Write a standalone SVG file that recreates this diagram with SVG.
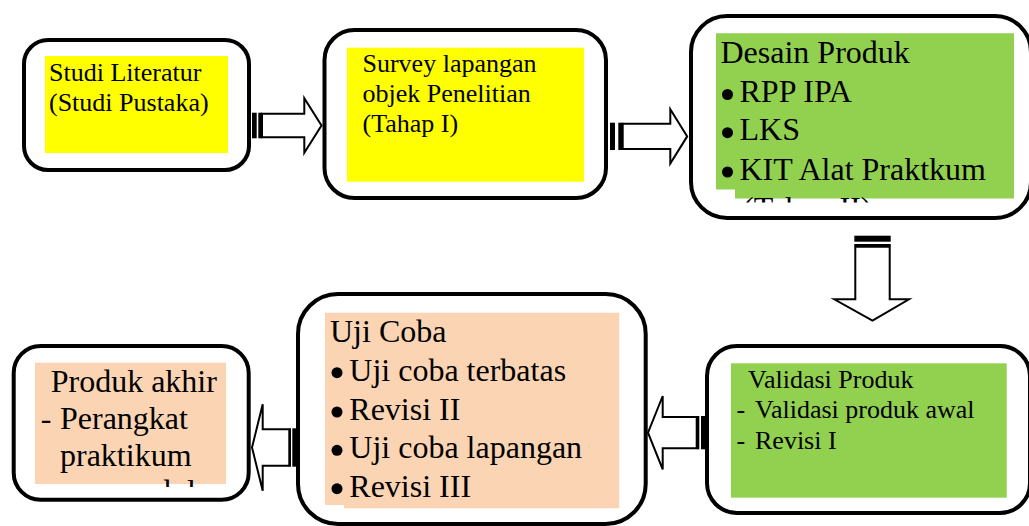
<svg xmlns="http://www.w3.org/2000/svg" width="1029" height="526" viewBox="0 0 1029 526">
<style>
.box{fill:#fff;stroke:#000;stroke-width:4}
.t26{font-family:"Liberation Serif","Times New Roman",serif;font-size:26px;fill:#000}
.t32{font-family:"Liberation Serif","Times New Roman",serif;font-size:32px;fill:#000}
.arr{fill:#fff;stroke:#000;stroke-width:2;stroke-linejoin:miter}
.stripe{fill:#000}
.yel{fill:#ffff00}
.grn{fill:#92d050}
.pch{fill:#fbd4b4}
</style>
<defs>
<clipPath id="clipT2"><rect x="700" y="190" width="320" height="12.5"/></clipPath>
<clipPath id="clipMod"><rect x="30" y="470" width="200" height="17"/></clipPath>
</defs>
<rect width="1029" height="526" fill="#fff"/>
<g id="node-studi">
<rect class="box" x="24" y="40" width="225" height="130" rx="24"/>
<rect class="yel" x="45" y="56" width="183" height="97"/>
<text class="t26" x="49" y="81">Studi Literatur</text>
<text class="t26" x="49" y="111">(Studi Pustaka)</text>
</g>
<g id="node-survey">
<rect class="box" x="324.5" y="30" width="281.5" height="168" rx="30"/>
<rect class="yel" x="347" y="47.7" width="237" height="134"/>
<text class="t26" x="362.5" y="72.3">Survey lapangan</text>
<text class="t26" x="362.5" y="101.8">objek Penelitian</text>
<text class="t26" x="362.5" y="131.5">(Tahap I)</text>
</g>
<g id="node-desain">
<rect class="box" x="691" y="16" width="340" height="202" rx="36"/>
<path class="grn" d="M716,33.3H1014V198.5H735V189.5H716Z"/>
<text class="t32" x="720.5" y="63.3">Desain Produk</text>
<circle cx="727.5" cy="94.5" r="5.5"/>
<text class="t32" x="739.5" y="101.7">RPP IPA</text>
<circle cx="727.5" cy="132.7" r="5.5"/>
<text class="t32" x="739.5" y="140">LKS</text>
<circle cx="727.5" cy="172" r="5.5"/>
<text class="t32" x="739.5" y="180">KIT Alat Praktkum</text>
<text class="t32" x="743" y="218.5" clip-path="url(#clipT2)">(Tahap II)</text>
</g>
<g id="node-validasi">
<rect class="box" x="707" y="346" width="323" height="167" rx="30"/>
<rect class="grn" x="731" y="363.3" width="275.7" height="134.4"/>
<text class="t26" x="748" y="387.5">Validasi Produk</text>
<text class="t26" x="736.5" y="418">-</text>
<text class="t26" x="755" y="418">Validasi produk awal</text>
<text class="t26" x="736.5" y="449">-</text>
<text class="t26" x="755" y="449">Revisi I</text>
</g>
<g id="node-ujicoba">
<rect class="box" x="298" y="294" width="347.7" height="230" rx="40"/>
<path class="pch" d="M325,312.7H619.3V508.3H344V505H325Z"/>
<text class="t32" x="330" y="341.7">Uji Coba</text>
<circle cx="337" cy="372.7" r="5.5"/>
<text class="t32" x="349.3" y="380.7">Uji coba terbatas</text>
<circle cx="337" cy="412" r="5.5"/>
<text class="t32" x="349.3" y="420">Revisi II</text>
<circle cx="337" cy="450.3" r="5.5"/>
<text class="t32" x="349.3" y="458.3">Uji coba lapangan</text>
<circle cx="337" cy="488.7" r="5.5"/>
<text class="t32" x="349.3" y="496.7">Revisi III</text>
</g>
<g id="node-produk">
<rect class="box" x="13.7" y="346" width="235" height="153.7" rx="27"/>
<rect class="pch" x="35" y="362.7" width="191" height="121.3"/>
<text class="t32" x="50.7" y="391.7">Produk akhir</text>
<text class="t32" x="40.7" y="429">-</text>
<text class="t32" x="60" y="429">Perangkat</text>
<text class="t32" x="60" y="465.5">praktikum</text>
<text class="t32" x="114" y="502" clip-path="url(#clipMod)">modul</text>
</g>
<g id="connectors">
<g id="arrow-1-2">
<rect class="stripe" x="252" y="112.7" width="4.7" height="25.6"/>
<rect class="stripe" x="258.3" y="112.7" width="3.7" height="25.6"/>
<path class="arr" d="M262,113.7H304.3V98.3L321.5,125.5L304.3,152.7V137.3H262Z"/>
</g>
<g id="arrow-2-3">
<rect class="stripe" x="610" y="122.7" width="5" height="27.3"/>
<rect class="stripe" x="618.3" y="122.7" width="4.4" height="27.3"/>
<path class="arr" d="M622.7,123.7H670.3V109.3L687.2,136.4L670.3,163.5V149H622.7Z"/>
</g>
<g id="arrow-3-4">
<rect class="stripe" x="854.3" y="235.7" width="36.4" height="6"/>
<rect class="stripe" x="854.3" y="244" width="36.4" height="2.7"/>
<path class="arr" d="M855.3,246.7V299.3H834.3L872.5,320.7L909,299.3H889.7V246.7Z"/>
</g>
<g id="arrow-4-5">
<rect class="stripe" x="701" y="416" width="4.5" height="33.3"/>
<rect class="stripe" x="696.7" y="416" width="2.6" height="33.3"/>
<path class="arr" d="M696.7,417H662.7V396L648,432.7L662.7,469.4V448.3H696.7Z"/>
</g>
<g id="arrow-5-6">
<rect class="stripe" x="292.3" y="428.3" width="4" height="38.4"/>
<rect class="stripe" x="289.3" y="428.3" width="1.7" height="38.4"/>
<path class="arr" d="M289.3,429.3H262.7V404.3L252,447.5L262.7,490.7V465.7H289.3Z"/>
</g>
</g>
</svg>
